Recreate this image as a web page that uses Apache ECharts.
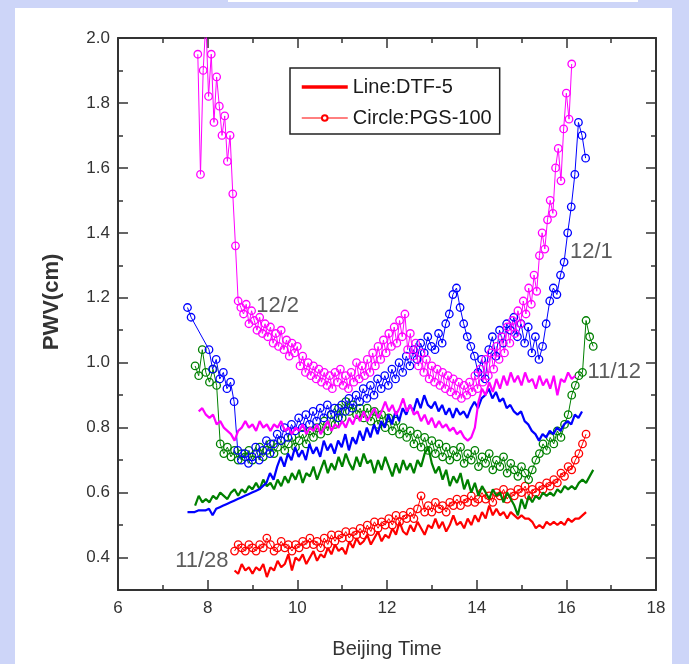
<!DOCTYPE html>
<html>
<head>
<meta charset="utf-8">
<script src="https://cdn.jsdelivr.net/npm/echarts@6/dist/echarts.min.js"></script>
<style>
  html, body { margin: 0; padding: 0; }
  #wrap { position: relative; width: 689px; height: 664px; background: #cdd5f8; overflow: hidden; }
  #panel { position: absolute; left: 15px; top: 8px; width: 657px; height: 656px; background: #fff; }
  #strip { position: absolute; left: 228px; top: 0; width: 410px; height: 2px; background: #fff; }
  #chart { position: absolute; left: 0; top: 0; width: 689px; height: 664px; }
</style>
</head>
<body>
<div id="wrap">
  <div id="panel"></div>
  <div id="strip"></div>
  <div id="chart"></div>
</div>
<script>
// sampling: each record starts at t0 (Beijing time, h) and is read every dt hours
const DT = 0.08;

// 11/28 (red)
const redLineT0 = 8.60;
const redLine = [
  0.36, 0.35, 0.38, 0.36, 0.37, 0.35, 0.37, 0.36, 0.38, 0.34,
  0.37, 0.36, 0.39, 0.37, 0.38, 0.41, 0.36, 0.40, 0.39, 0.41,
  0.38, 0.40, 0.42, 0.39, 0.41, 0.40, 0.43, 0.41, 0.44, 0.42,
  0.43, 0.41, 0.45, 0.43, 0.46, 0.44, 0.45, 0.47, 0.44, 0.46,
  0.48, 0.45, 0.47, 0.46, 0.49, 0.47, 0.51, 0.48, 0.47, 0.50,
  0.48, 0.51, 0.49, 0.47, 0.50, 0.49, 0.52, 0.49, 0.51, 0.48,
  0.50, 0.53, 0.50, 0.51, 0.49, 0.52, 0.50, 0.53, 0.51, 0.54,
  0.52, 0.56, 0.53, 0.55, 0.53, 0.54, 0.52, 0.54, 0.53, 0.52,
  0.53, 0.52, 0.52, 0.51, 0.49, 0.50, 0.49, 0.51, 0.50, 0.51,
  0.50, 0.51, 0.50, 0.52, 0.51, 0.52, 0.52, 0.53, 0.54
];
const redCircT0 = 8.60;
const redCirc = [
  0.42, 0.44, 0.43, 0.42, 0.44, 0.43, 0.42, 0.44, 0.43, 0.46,
  0.44, 0.42, 0.43, 0.45, 0.43, 0.44, 0.42, 0.44, 0.43, 0.45,
  0.44, 0.46, 0.44, 0.45, 0.43, 0.46, 0.44, 0.47, 0.45, 0.47,
  0.46, 0.48, 0.46, 0.48, 0.47, 0.49, 0.47, 0.50, 0.48, 0.51,
  0.49, 0.51, 0.50, 0.52, 0.50, 0.53, 0.51, 0.53, 0.52, 0.54,
  0.52, 0.55, 0.59, 0.54, 0.56, 0.54, 0.57, 0.55, 0.56, 0.54,
  0.57, 0.56, 0.58, 0.56, 0.58, 0.57, 0.59, 0.57, 0.58, 0.60,
  0.58, 0.59, 0.57, 0.60, 0.59, 0.61, 0.58, 0.60, 0.59, 0.61,
  0.60, 0.62, 0.59, 0.61, 0.60, 0.62, 0.61, 0.63, 0.62, 0.64,
  0.63, 0.66, 0.65, 0.68, 0.67, 0.70, 0.72, 0.75, 0.78
];

// 11/12 (green)
const greenLineT0 = 7.72;
const greenLine = [
  0.56, 0.59, 0.57, 0.58, 0.57, 0.59, 0.58, 0.60, 0.59, 0.58,
  0.60, 0.61, 0.59, 0.61, 0.60, 0.62, 0.61, 0.63, 0.61, 0.64,
  0.62, 0.63, 0.61, 0.64, 0.62, 0.65, 0.63, 0.66, 0.64, 0.67,
  0.63, 0.66, 0.65, 0.68, 0.64, 0.67, 0.70, 0.66, 0.69, 0.67,
  0.71, 0.68, 0.72, 0.69, 0.67, 0.71, 0.68, 0.72, 0.69, 0.70,
  0.66, 0.70, 0.67, 0.71, 0.68, 0.65, 0.69, 0.66, 0.70, 0.67,
  0.69, 0.66, 0.70, 0.68, 0.72, 0.74, 0.69, 0.66, 0.68, 0.64,
  0.67, 0.62, 0.65, 0.63, 0.66, 0.61, 0.64, 0.60, 0.63, 0.59,
  0.62, 0.60, 0.58, 0.61, 0.59, 0.60, 0.57, 0.60, 0.58, 0.56,
  0.53, 0.58, 0.55, 0.59, 0.57, 0.59, 0.58, 0.60, 0.59, 0.60,
  0.59, 0.61, 0.60, 0.62, 0.61, 0.62, 0.61, 0.63, 0.64, 0.63,
  0.65, 0.67
];
const greenCircT0 = 7.72;
const greenCirc = [
  0.99, 0.96, 1.04, 0.97, 0.94, 0.98, 0.93, 0.75, 0.72, 0.74,
  0.71, 0.73, 0.70, 0.72, 0.71, 0.73, 0.70, 0.72, 0.74, 0.71,
  0.73, 0.75, 0.72, 0.74, 0.76, 0.73, 0.75, 0.77, 0.74, 0.76,
  0.78, 0.75, 0.79, 0.77, 0.80, 0.78, 0.82, 0.79, 0.84, 0.81,
  0.86, 0.83, 0.88, 0.85, 0.87, 0.84, 0.86, 0.83, 0.86, 0.82,
  0.85, 0.81, 0.84, 0.80, 0.83, 0.79, 0.82, 0.78, 0.80, 0.77,
  0.79, 0.75, 0.78, 0.74, 0.77, 0.73, 0.76, 0.72, 0.75, 0.71,
  0.74, 0.70, 0.73, 0.71, 0.74, 0.69, 0.72, 0.70, 0.73, 0.68,
  0.71, 0.69, 0.72, 0.67, 0.70, 0.68, 0.71, 0.66, 0.69, 0.67,
  0.65, 0.68, 0.66, 0.64, 0.67, 0.70, 0.72, 0.75, 0.73, 0.77,
  0.75, 0.79, 0.77, 0.81, 0.84, 0.90, 0.93, 0.96, 0.97, 1.13,
  1.08, 1.05
];

// 12/1 (blue)
const blueLineT0 = 7.55;
const blueLine = [
  0.54, 0.54, 0.54, 0.545, 0.545, 0.545, 0.55, 0.53, 0.55, 0.555,
  0.56, 0.565, 0.57, 0.575, 0.58, 0.585, 0.59, 0.595, 0.60, 0.605,
  0.61, 0.62, 0.63, 0.66, 0.64, 0.68, 0.71, 0.68, 0.72, 0.70,
  0.74, 0.71, 0.73, 0.70, 0.75, 0.72, 0.74, 0.71, 0.76, 0.73,
  0.75, 0.72, 0.76, 0.74, 0.78, 0.73, 0.77, 0.75, 0.79, 0.76,
  0.80, 0.77, 0.81, 0.78, 0.82, 0.80, 0.84, 0.81, 0.85, 0.82,
  0.86, 0.84, 0.87, 0.85, 0.89, 0.86, 0.90, 0.87, 0.86, 0.88,
  0.85, 0.87, 0.84, 0.86, 0.83, 0.86, 0.84, 0.85, 0.83, 0.86,
  0.88, 0.86, 0.89, 0.90, 0.92, 0.89, 0.91, 0.88, 0.89, 0.86,
  0.87, 0.85, 0.84, 0.85, 0.82, 0.81, 0.79, 0.78, 0.76, 0.78,
  0.77, 0.79, 0.78, 0.80, 0.79, 0.81, 0.82, 0.81, 0.84, 0.83,
  0.85
];
const blueCircT0 = 7.55;
const blueCirc = [
  1.17, 1.14, null, null, null, null, 1.04, 0.98, 1.01, 0.95,
  0.97, 0.92, 0.94, 0.88, 0.73, 0.70, 0.72, 0.69, 0.71, 0.74,
  0.70, 0.73, 0.76, 0.72, 0.75, 0.78, 0.76, 0.80, 0.77, 0.81,
  0.79, 0.83, 0.80, 0.84, 0.81, 0.85, 0.82, 0.86, 0.83, 0.87,
  0.84, 0.86, 0.83, 0.87, 0.85, 0.89, 0.86, 0.90, 0.88, 0.92,
  0.89, 0.93, 0.90, 0.95, 0.92, 0.96, 0.93, 0.98, 0.95, 1.00,
  0.97, 1.02, 0.99, 1.04, 1.01, 1.06, 1.03, 1.08, 1.05, 1.04,
  1.09, 1.06, 1.12, 1.15, 1.21, 1.23, 1.17, 1.12, 1.08, 1.05,
  1.02, 0.97, 1.01, 0.95, 1.04, 1.08, 1.02, 1.10, 1.06, 1.12,
  1.10, 1.14, 1.08, 1.12, 1.06, 1.11, 1.03, 1.08, 1.01, 1.05,
  1.12, 1.19, 1.23, 1.21, 1.27, 1.31, 1.40, 1.48, 1.58, 1.74,
  1.70, 1.63
];

// 12/2 (magenta)
const magLineT0 = 7.80;
const magLine = [
  0.85, 0.86, 0.84, 0.83, 0.84, 0.81, 0.82, 0.80, 0.79, 0.78,
  0.76, 0.79, 0.80, 0.82, 0.80, 0.81, 0.79, 0.82, 0.80, 0.81,
  0.79, 0.81, 0.80, 0.82, 0.79, 0.80, 0.78, 0.80, 0.79, 0.81,
  0.78, 0.80, 0.79, 0.81, 0.78, 0.80, 0.82, 0.79, 0.81, 0.80,
  0.82, 0.80, 0.83, 0.81, 0.84, 0.82, 0.85, 0.82, 0.84, 0.86,
  0.83, 0.85, 0.88, 0.85, 0.87, 0.84, 0.86, 0.89, 0.85, 0.87,
  0.84, 0.85, 0.82, 0.84, 0.81, 0.83, 0.80, 0.82, 0.80, 0.81,
  0.79, 0.80, 0.78, 0.79, 0.77, 0.76, 0.77, 0.80, 0.88, 0.92,
  0.90, 0.94, 0.91, 0.95, 0.92, 0.96, 0.93, 0.97, 0.94, 0.96,
  0.93, 0.97, 0.94, 0.95, 0.92, 0.96, 0.93, 0.95, 0.92, 0.96,
  0.90, 0.95, 0.94, 0.97, 0.95, 0.96
];
const magCircT0 = 7.78;
const magCircDt = 0.06;
const magCirc = [
  1.95, 1.58, 1.90, 2.05, 1.82, 1.95, 1.74, 1.88, 1.79, 1.70,
  1.76, 1.62, 1.70, 1.52, 1.36, 1.19, 1.17, 1.15, 1.18, 1.12,
  1.16, 1.13, 1.10, 1.14, 1.09, 1.12, 1.08, 1.11, 1.06, 1.09,
  1.05, 1.10, 1.04, 1.07, 1.02, 1.06, 1.03, 1.05, 0.99, 1.02,
  0.97, 1.00, 0.96, 0.99, 0.95, 0.98, 0.94, 0.97, 0.93, 0.96,
  0.92, 0.97, 0.94, 0.98, 0.93, 0.96, 0.92, 0.97, 0.94, 1.00,
  0.95, 0.99, 0.96, 1.01, 0.97, 1.03, 0.99, 1.05, 1.01, 1.07,
  1.03, 1.09, 1.05, 1.11, 1.06, 1.13, 1.08, 1.15, 1.04, 1.09,
  1.02, 1.06, 0.99, 1.03, 0.97, 1.01, 0.95, 0.99, 0.94, 0.98,
  0.93, 0.97, 0.92, 0.96, 0.91, 0.95, 0.90, 0.94, 0.89, 0.93,
  0.90, 0.94, 0.91, 0.96, 0.92, 0.98, 0.94, 1.01, 0.96, 1.03,
  0.98, 1.05, 1.01, 1.08, 1.03, 1.11, 1.06, 1.13, 1.09, 1.16,
  1.12, 1.19, 1.15, 1.23, 1.18, 1.27, 1.22, 1.33, 1.40, 1.35,
  1.44, 1.50, 1.46, 1.60, 1.66, 1.56, 1.72, 1.83, 1.75, 1.92
];

// date labels placed in data coordinates [time, PWV, text]
const dateLabels = [
  [9.56, 1.174, '12/2'],
  [16.56, 1.34, '12/1'],
  [17.07, 0.971, '11/12'],
  [7.87, 0.389, '11/28']
];

const yMajorTicks = [0.4, 0.6, 0.8, 1.0, 1.2, 1.4, 1.6, 1.8, 2.0];
const yMinorTicks = [0.5, 0.7, 0.9, 1.1, 1.3, 1.5, 1.7, 1.9];
const legendNames = ['Line:DTF-5', 'Circle:PGS-100'];

const RED = '#ff0000', GREEN = '#008000', BLUE = '#0000ff', MAGENTA = '#ff00ff';
const AXIS = '#333';
const FONT = '"Liberation Sans", Arial, sans-serif';

function toPoints(t0, dt, vals) {
  return vals.map((v, i) => [+(t0 + i * dt).toFixed(2), v == null ? '-' : v]);
}

function dtfSeries(color, t0, vals) {
  return {
    type: 'line',
    data: toPoints(t0, DT, vals),
    symbol: 'none',
    lineStyle: { color: color, width: 2.2 },
    z: 4,
    silent: true
  };
}

function pgsSeries(color, t0, dt, vals) {
  return {
    type: 'line',
    data: toPoints(t0, dt, vals),
    symbol: 'circle',
    symbolSize: 7.5,
    showAllSymbol: true,
    connectNulls: true,
    itemStyle: { color: 'rgba(255,255,255,0)', borderColor: color, borderWidth: 1.3 },
    lineStyle: { color: color, width: 1 },
    z: 3,
    silent: true
  };
}

const tickLine = { color: AXIS, width: 1.5 };

const chart = echarts.init(document.getElementById('chart'));
chart.setOption({
  backgroundColor: 'transparent',
  animation: false,
  grid: { left: 118, right: 33, top: 38, bottom: 74 },
  legend: {
    data: [
      { name: legendNames[0], itemStyle: { opacity: 0 }, lineStyle: { width: 3.5, color: RED } },
      { name: legendNames[1], lineStyle: { width: 1, color: RED } }
    ],
    orient: 'vertical',
    left: 290,
    top: 68,
    itemWidth: 46,
    itemHeight: 7,
    itemGap: 11,
    padding: [9, 8, 6, 10],
    backgroundColor: '#fff',
    borderColor: '#222',
    borderWidth: 1.5,
    selectedMode: false,
    textStyle: { fontSize: 20, color: '#1a1a1a', fontFamily: FONT }
  },
  xAxis: [
    {
      type: 'value', min: 6, max: 18, interval: 2, position: 'bottom',
      name: 'Beijing Time', nameLocation: 'middle', nameGap: 49,
      nameTextStyle: { fontSize: 20, color: AXIS, fontFamily: FONT },
      axisLine: { onZero: false, lineStyle: { color: AXIS, width: 2 } },
      axisTick: { inside: true, length: 10, lineStyle: tickLine },
      minorTick: { show: true, splitNumber: 2, length: 5, lineStyle: tickLine },
      axisLabel: { fontSize: 17, color: AXIS, margin: 10, fontFamily: FONT },
      splitLine: { show: false }
    },
    {
      type: 'value', min: 6, max: 18, interval: 2, position: 'top',
      axisLine: { onZero: false, lineStyle: { color: AXIS, width: 2 } },
      axisTick: { inside: true, length: 10, lineStyle: tickLine },
      minorTick: { show: true, splitNumber: 2, length: 5, lineStyle: tickLine },
      axisLabel: { show: false },
      splitLine: { show: false }
    }
  ],
  yAxis: [
    {
      type: 'value', min: 0.3, max: 2.0, position: 'left',
      name: 'PWV(cm)', nameLocation: 'middle', nameGap: 55,
      nameTextStyle: {
        fontSize: 22, fontWeight: 'bold', color: AXIS, fontFamily: FONT,
        padding: [0, 0, 0, 24]
      },
      axisLine: { onZero: false, lineStyle: { color: AXIS, width: 2 } },
      axisTick: { inside: true, length: 10, lineStyle: tickLine, customValues: yMajorTicks },
      axisLabel: {
        fontSize: 17, color: AXIS, margin: 8, fontFamily: FONT,
        customValues: yMajorTicks, formatter: v => v.toFixed(1)
      },
      splitLine: { show: false }
    },
    {
      type: 'value', min: 0.3, max: 2.0, position: 'left',
      axisLine: { show: false },
      axisTick: { inside: true, length: 5, lineStyle: tickLine, customValues: yMinorTicks },
      axisLabel: { show: false },
      splitLine: { show: false }
    },
    {
      type: 'value', min: 0.3, max: 2.0, position: 'right',
      axisLine: { onZero: false, lineStyle: { color: AXIS, width: 2 } },
      axisTick: { inside: true, length: 10, lineStyle: tickLine, customValues: yMajorTicks },
      axisLabel: { show: false },
      splitLine: { show: false }
    },
    {
      type: 'value', min: 0.3, max: 2.0, position: 'right',
      axisLine: { show: false },
      axisTick: { inside: true, length: 5, lineStyle: tickLine, customValues: yMinorTicks },
      axisLabel: { show: false },
      splitLine: { show: false }
    }
  ],
  series: [
    pgsSeries(RED, redCircT0, DT, redCirc),
    pgsSeries(GREEN, greenCircT0, DT, greenCirc),
    pgsSeries(BLUE, blueCircT0, DT, blueCirc),
    pgsSeries(MAGENTA, magCircT0, magCircDt, magCirc),
    dtfSeries(RED, redLineT0, redLine),
    dtfSeries(GREEN, greenLineT0, greenLine),
    dtfSeries(BLUE, blueLineT0, blueLine),
    dtfSeries(MAGENTA, magLineT0, magLine),
    {
      name: legendNames[0], type: 'line', data: [], symbol: 'none',
      itemStyle: { color: RED }, lineStyle: { color: RED, width: 3.5 }
    },
    {
      name: legendNames[1], type: 'line', data: [], symbol: 'emptyCircle', symbolSize: 5,
      itemStyle: { color: RED }, lineStyle: { color: RED, width: 1 }
    },
    {
      type: 'scatter',
      data: dateLabels,
      symbolSize: 0,
      silent: true,
      z: 6,
      label: {
        show: true, position: 'inside', formatter: p => p.value[2],
        fontSize: 22, color: '#333', fontFamily: FONT
      }
    }
  ]
});
</script>
</body>
</html>
